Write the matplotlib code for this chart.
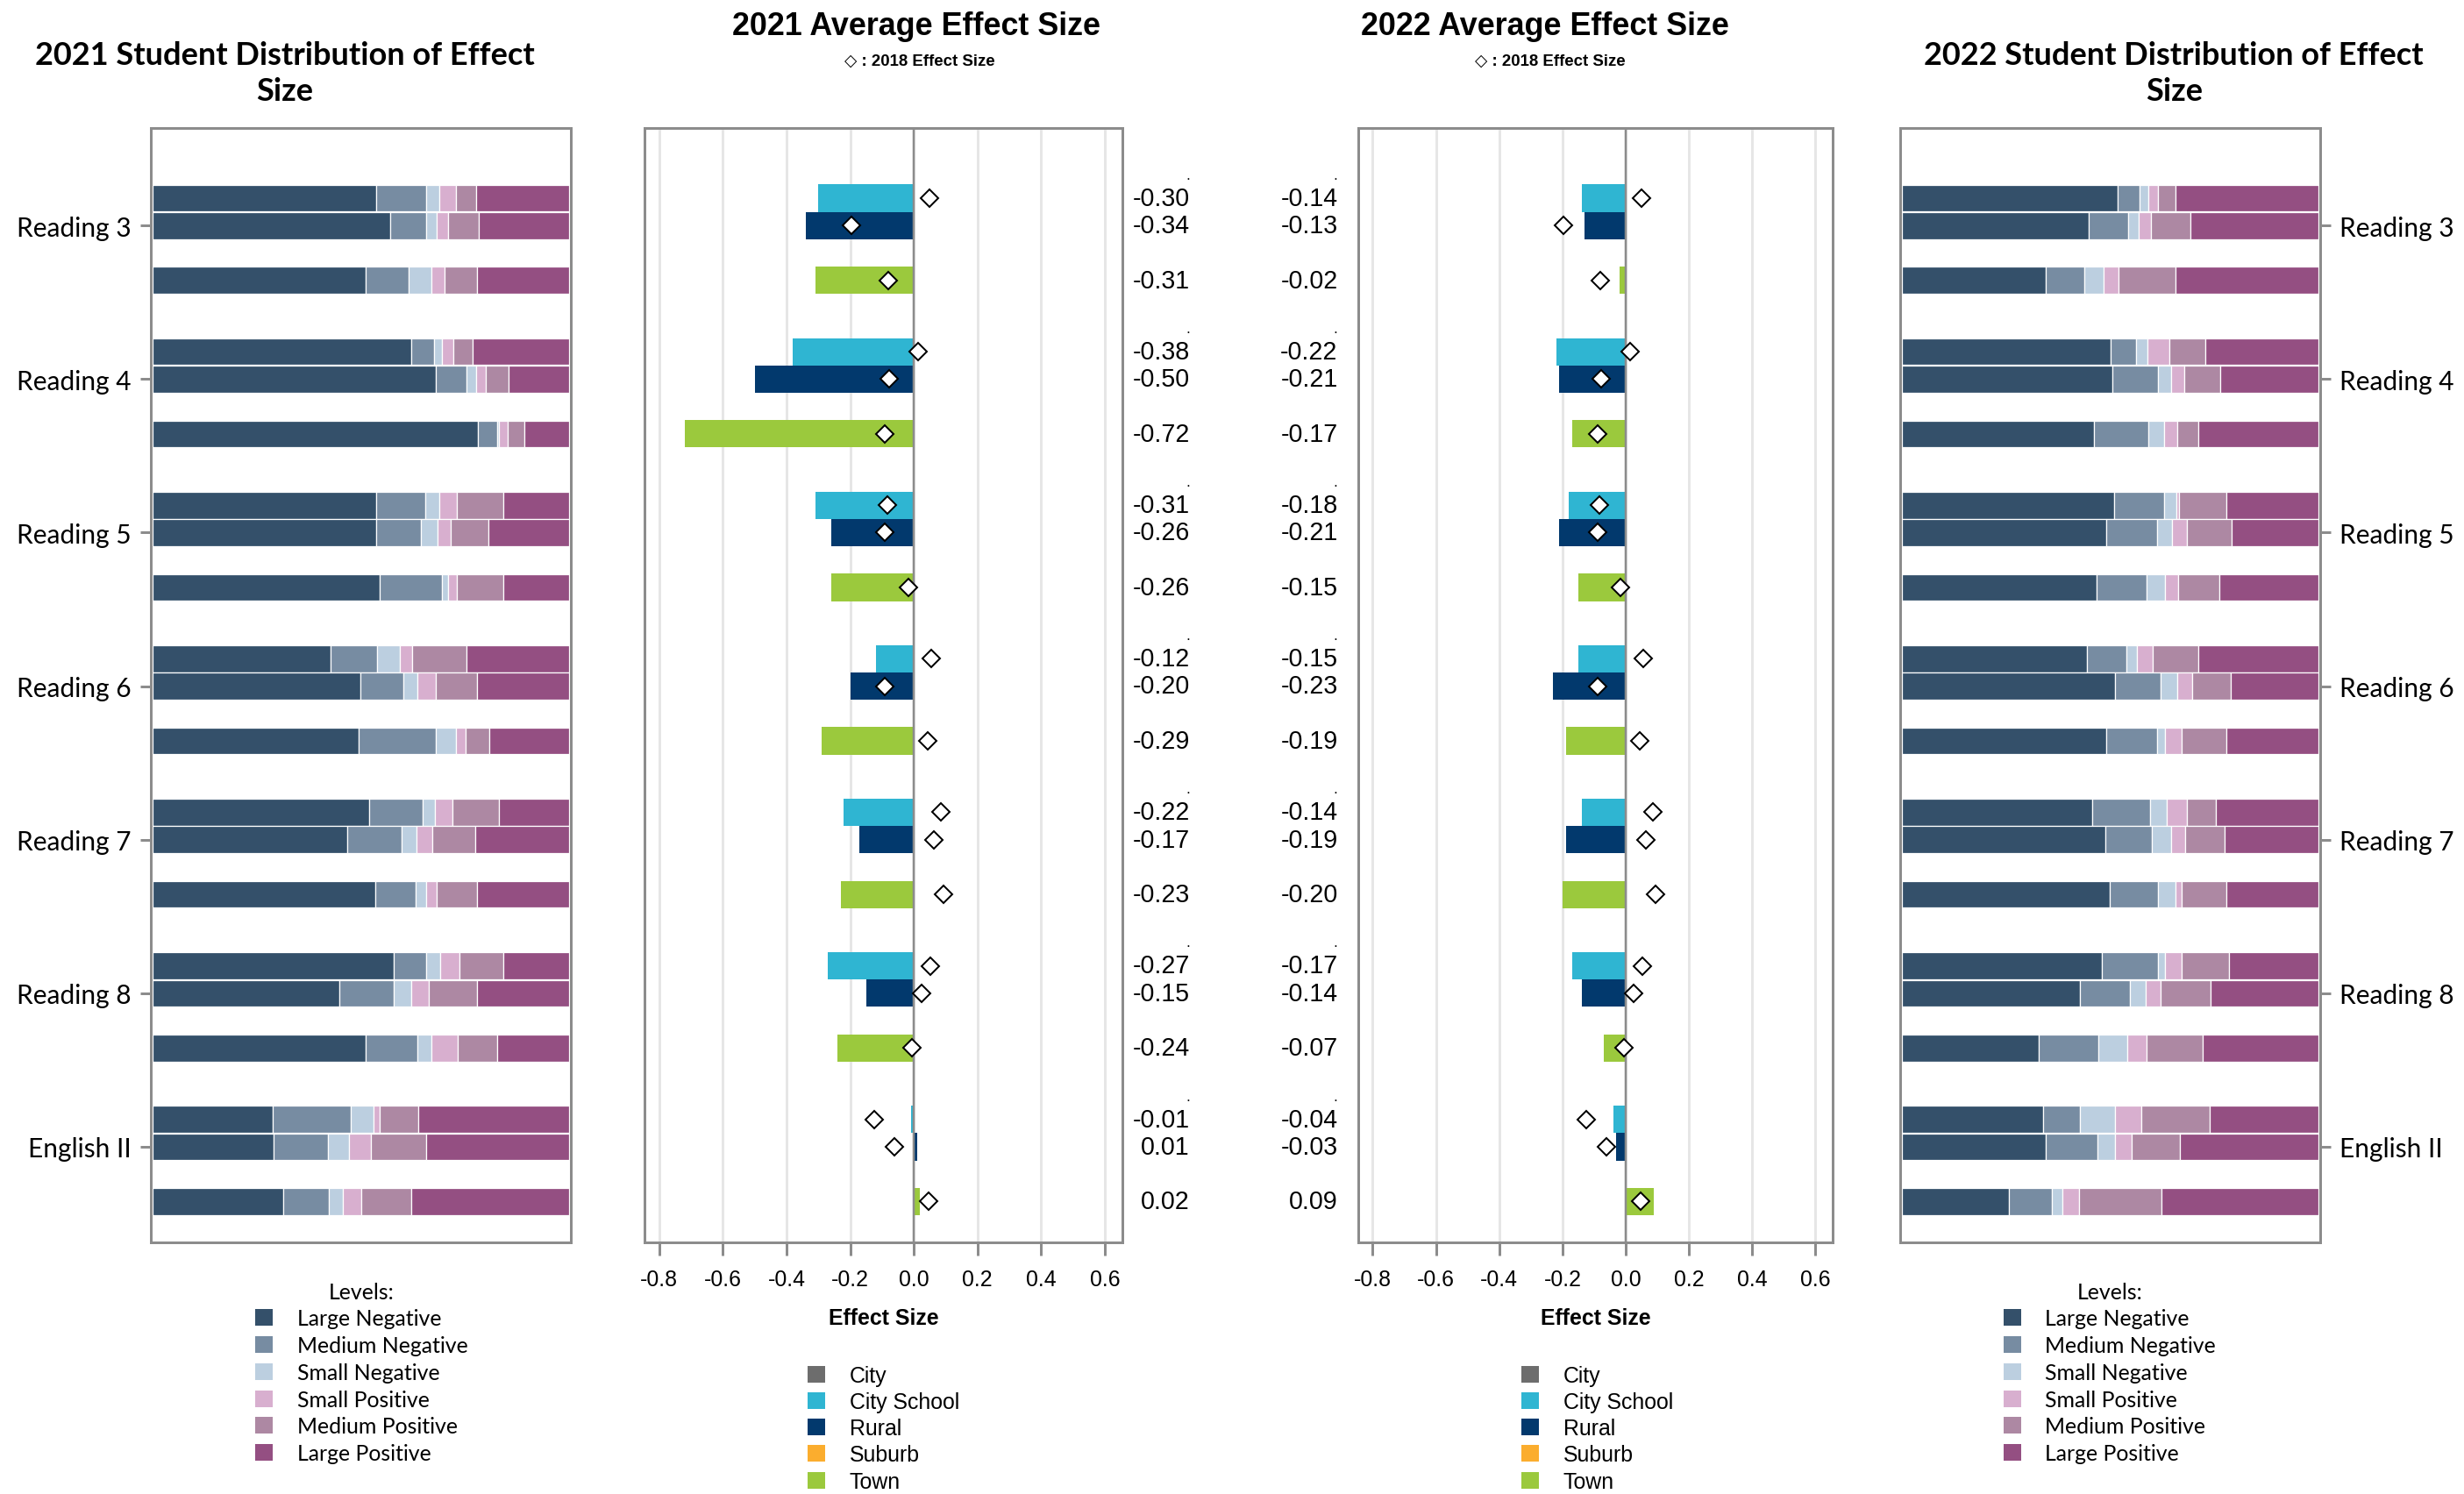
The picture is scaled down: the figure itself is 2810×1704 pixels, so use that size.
import numpy as np
import matplotlib
matplotlib.use("Agg")
import matplotlib.pyplot as plt
from matplotlib.patches import Patch
from matplotlib.transforms import blended_transform_factory

# ---- data ----
subjects = ["Reading 3", "Reading 4", "Reading 5", "Reading 6", "Reading 7", "Reading 8", "English II"]
locales = ["City", "City School", "Rural", "Suburb", "Town"]
levels = ["Large Negative", "Medium Negative", "Small Negative",
          "Small Positive", "Medium Positive", "Large Positive"]

# average effect size by locale
es21_city_school = [-0.30, -0.38, -0.31, -0.12, -0.22, -0.27, -0.01]
es21_rural = [-0.34, -0.50, -0.26, -0.20, -0.17, -0.15, 0.01]
es21_town = [-0.31, -0.72, -0.26, -0.29, -0.23, -0.24, 0.02]

es22_city_school = [-0.14, -0.22, -0.18, -0.15, -0.14, -0.17, -0.04]
es22_rural = [-0.13, -0.21, -0.21, -0.23, -0.19, -0.14, -0.03]
es22_town = [-0.02, -0.17, -0.15, -0.19, -0.20, -0.07, 0.09]

# 2018 effect size (diamonds)
es18_city_school = [0.05, 0.014, -0.082, 0.054, 0.085, 0.053, -0.125]
es18_rural = [-0.197, -0.077, -0.09, -0.09, 0.064, 0.024, -0.062]
es18_town = [-0.08, -0.09, -0.017, 0.043, 0.094, -0.005, 0.047]

# share of students per level (one row per subject)
dist21_city_school = [
    [0.536, 0.121, 0.031, 0.040, 0.049, 0.223],
    [0.622, 0.053, 0.020, 0.027, 0.047, 0.231],
    [0.537, 0.118, 0.034, 0.041, 0.112, 0.158],
    [0.428, 0.112, 0.054, 0.029, 0.131, 0.246],
    [0.520, 0.128, 0.030, 0.043, 0.110, 0.169],
    [0.580, 0.076, 0.035, 0.047, 0.105, 0.157],
    [0.289, 0.186, 0.055, 0.015, 0.093, 0.362],
]
dist21_rural = [
    [0.571, 0.087, 0.024, 0.028, 0.074, 0.216],
    [0.681, 0.072, 0.024, 0.023, 0.055, 0.145],
    [0.536, 0.108, 0.040, 0.032, 0.091, 0.193],
    [0.499, 0.103, 0.033, 0.045, 0.099, 0.221],
    [0.467, 0.132, 0.035, 0.037, 0.104, 0.225],
    [0.449, 0.130, 0.043, 0.042, 0.116, 0.220],
    [0.291, 0.130, 0.051, 0.052, 0.133, 0.343],
]
dist21_town = [
    [0.511, 0.103, 0.055, 0.032, 0.079, 0.220],
    [0.781, 0.047, 0.004, 0.021, 0.040, 0.107],
    [0.546, 0.148, 0.015, 0.022, 0.111, 0.158],
    [0.494, 0.186, 0.048, 0.024, 0.056, 0.192],
    [0.535, 0.096, 0.027, 0.025, 0.097, 0.220],
    [0.512, 0.123, 0.035, 0.062, 0.096, 0.172],
    [0.314, 0.109, 0.033, 0.045, 0.120, 0.379],
]
dist22_city_school = [
    [0.517, 0.053, 0.022, 0.022, 0.043, 0.343],
    [0.500, 0.061, 0.028, 0.052, 0.088, 0.271],
    [0.510, 0.120, 0.028, 0.007, 0.113, 0.222],
    [0.444, 0.095, 0.024, 0.038, 0.111, 0.288],
    [0.457, 0.139, 0.039, 0.048, 0.070, 0.247],
    [0.480, 0.135, 0.017, 0.040, 0.113, 0.215],
    [0.339, 0.087, 0.085, 0.063, 0.164, 0.262],
]
dist22_rural = [
    [0.449, 0.093, 0.027, 0.028, 0.095, 0.308],
    [0.504, 0.111, 0.031, 0.031, 0.086, 0.237],
    [0.490, 0.123, 0.036, 0.035, 0.108, 0.208],
    [0.512, 0.108, 0.040, 0.037, 0.092, 0.211],
    [0.487, 0.113, 0.045, 0.034, 0.096, 0.225],
    [0.427, 0.120, 0.038, 0.035, 0.121, 0.259],
    [0.344, 0.125, 0.043, 0.040, 0.115, 0.333],
]
dist22_town = [
    [0.344, 0.093, 0.046, 0.036, 0.138, 0.343],
    [0.461, 0.131, 0.037, 0.031, 0.052, 0.288],
    [0.466, 0.120, 0.046, 0.031, 0.099, 0.238],
    [0.491, 0.121, 0.020, 0.040, 0.107, 0.221],
    [0.499, 0.115, 0.043, 0.015, 0.107, 0.221],
    [0.328, 0.144, 0.068, 0.046, 0.136, 0.278],
    [0.257, 0.103, 0.025, 0.040, 0.198, 0.377],
]

level_colors = ["#34506a", "#778ca2", "#bccfe0", "#d8afcf", "#ad88a3", "#944f82"]
locale_colors = {"City": "#6d6d6d", "City School": "#2fb5d2", "Rural": "#02396d",
                 "Suburb": "#fbad2e", "Town": "#9bc93d"}

# ---- layout helpers ----
G = 5.61              # group spacing in slot units
slot = {name: i for i, name in enumerate(locales)}
YLIM = (39.16, -1.56)
W, H = 1568.0, 951.0  # reference layout units


def fx(x):
    return x / W


def fy(y):
    return 1 - y / H


def rect(l, r, t, b):
    return [fx(l), fy(b), fx(r) - fx(l), fy(t) - fy(b)]


def ypos(g, loc):
    return g * G + slot[loc]


SANS = ["Liberation Sans", "DejaVu Sans"]
LATO = ["Lato", "DejaVu Sans"]
GRAY = "#8c8c8c"

fig = plt.figure(figsize=(15.68, 9.51), dpi=179.27)


def dist_panel(ax, data_by_loc, side):
    for loc, rows in data_by_loc:
        for g, row in enumerate(rows):
            left = 0.0
            for k, v in enumerate(row):
                ax.barh(ypos(g, loc), v, left=left, height=0.98, color=level_colors[k],
                        edgecolor="white", linewidth=0.5)
                left += v
    ax.set_xlim(-0.004, 1.004)
    ax.set_ylim(*YLIM)
    ax.set_xticks([])
    ax.set_yticks([ypos(g, "Rural") for g in range(len(subjects))])
    ax.set_yticklabels(subjects, family=LATO, fontsize=12)
    ax.tick_params(axis="y", length=5, width=1.2, color=GRAY, pad=4)
    if side == "right":
        ax.yaxis.tick_right()
    for sp in ax.spines.values():
        sp.set_color(GRAY)
        sp.set_linewidth(1.2)


def avg_panel(ax, vals_by_loc, label_x):
    ax.set_xlim(-0.846, 0.655)
    ax.set_ylim(*YLIM)
    ticks = np.round(np.arange(-0.8, 0.61, 0.2), 1)
    for t in ticks:
        ax.axvline(t, color="#e6e6e6", lw=1.2, zorder=0)
    ax.axvline(0, color=GRAY, lw=1.0, zorder=3)
    trans = blended_transform_factory(ax.transAxes, ax.transData)
    for loc, vals, v18 in vals_by_loc:
        ys = [ypos(g, loc) for g in range(len(subjects))]
        ax.barh(ys, vals, height=1.0, color=locale_colors[loc], zorder=2)
        ax.plot(v18, ys, ls="none", marker="D", ms=5.4, mfc="white", mec="black",
                mew=0.8, zorder=4)
        for y, v in zip(ys, vals):
            ax.text(label_x, y, f"{v:.2f}", transform=trans, ha="right", va="center",
                    family=SANS, fontsize=11.5, clip_on=False)
    for g in range(len(subjects)):
        ax.text(label_x, ypos(g, "City") + 0.15, ".", transform=trans, ha="right",
                va="center", family=SANS, fontsize=7, clip_on=False)
    ax.set_yticks([])
    ax.set_xticks(ticks)
    ax.set_xticklabels([f"{abs(t):.1f}" if t == 0 else f"{t:.1f}" for t in ticks],
                       family=SANS, fontsize=10)
    ax.tick_params(axis="x", length=6, width=1.2, color=GRAY, pad=6)
    ax.set_xlabel("Effect Size", family=SANS, fontsize=10, fontweight="bold", labelpad=8)
    for sp in ax.spines.values():
        sp.set_color(GRAY)
        sp.set_linewidth(1.2)


ax1 = fig.add_axes(rect(96, 363, 82, 791))
ax2 = fig.add_axes(rect(410, 714, 82, 791))
ax3 = fig.add_axes(rect(864, 1166, 82, 791))
ax4 = fig.add_axes(rect(1209, 1476, 82, 791))

dist_panel(ax1, [("City School", dist21_city_school), ("Rural", dist21_rural),
                 ("Town", dist21_town)], "left")
dist_panel(ax4, [("City School", dist22_city_school), ("Rural", dist22_rural),
                 ("Town", dist22_town)], "right")
avg_panel(ax2, [("City School", es21_city_school, es18_city_school),
                ("Rural", es21_rural, es18_rural),
                ("Town", es21_town, es18_town)], 1.141)
avg_panel(ax3, [("City School", es22_city_school, es18_city_school),
                ("Rural", es22_rural, es18_rural),
                ("Town", es22_town, es18_town)], -0.043)

# ---- titles ----
fig.text(fx(181), fy(47), "2021 Student Distribution of Effect\nSize", ha="center",
         va="center", family=LATO, fontweight="bold", fontsize=14.5, linespacing=1.3)
fig.text(fx(1383), fy(47), "2022 Student Distribution of Effect\nSize", ha="center",
         va="center", family=LATO, fontweight="bold", fontsize=14.5, linespacing=1.3)
fig.text(fx(583), fy(17), "2021 Average Effect Size", ha="center", va="center",
         family=SANS, fontweight="bold", fontsize=14.4)
fig.text(fx(983), fy(17), "2022 Average Effect Size", ha="center", va="center",
         family=SANS, fontweight="bold", fontsize=14.4)
fig.text(fx(585), fy(39), "\u25c7 : 2018 Effect Size", ha="center", va="center",
         family=SANS, fontweight="bold", fontsize=7.5)
fig.text(fx(986), fy(39), "\u25c7 : 2018 Effect Size", ha="center", va="center",
         family=SANS, fontweight="bold", fontsize=7.5)

# ---- legends ----
lvl_handles = [Patch(facecolor=c, edgecolor="none") for c in level_colors]
for cx in (230, 1342):
    fig.legend(lvl_handles, levels, loc="upper center", bbox_to_anchor=(fx(cx), fy(809)),
               frameon=False, title="Levels:", prop={"family": LATO, "size": 10},
               title_fontproperties={"family": LATO, "size": 10},
               handlelength=0.8, handleheight=0.8, handletextpad=1.1,
               labelspacing=0.31, borderpad=0)

loc_handles = [Patch(facecolor=locale_colors[l], edgecolor="none") for l in locales]
for lx in (507, 961):
    fig.legend(loc_handles, locales, loc="upper left", bbox_to_anchor=(fx(lx), fy(862)),
               frameon=False, prop={"family": SANS, "size": 10},
               handlelength=0.8, handleheight=0.8, handletextpad=1.1,
               labelspacing=0.25, borderpad=0)

fig.savefig("out.png", dpi=179.27)
